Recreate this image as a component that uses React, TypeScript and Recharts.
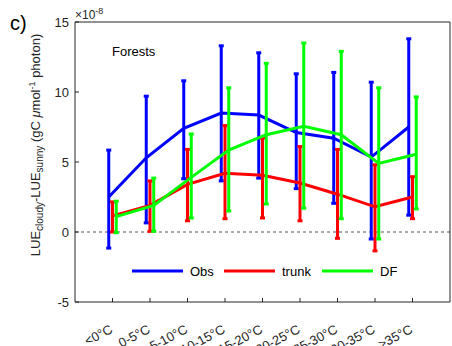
import { ComposedChart, Line, XAxis, YAxis, ErrorBar, ReferenceLine } from 'recharts';

document.body.style.margin = '0';

const categories = ['<0°C', '0-5°C', '5-10°C', '10-15°C', '15-20°C', '20-25°C', '25-30°C', '30-35°C', '>35°C'];
const yTicks = [-5, 0, 5, 10, 15];

// values in units of 1e-8 gC umol-1 photon
const obsMean = [2.5, 5.3, 7.4, 8.5, 8.35, 7.1, 6.7, 5.35, 7.5];
const obsLow = [-1.15, 0.65, 3.8, 3.65, 3.85, 3.1, 2.05, -0.5, 1.2];
const obsHigh = [5.85, 9.7, 10.8, 13.3, 12.8, 11.3, 11.4, 10.7, 13.8];
const trunkMean = [1.15, 1.9, 3.4, 4.2, 4.05, 3.5, 2.7, 1.8, 2.5];
const trunkLow = [0, 0.05, 0.8, 0.95, 1.0, 0.8, -0.45, -1.35, 0.95];
const trunkHigh = [2.15, 3.65, 5.9, 7.6, 6.7, 6.1, 5.9, 4.8, 3.95];
const dfMean = [1.1, 1.9, 3.9, 5.85, 6.95, 7.55, 6.95, 4.9, 5.55];
const dfLow = [-0.05, 0.05, 1.0, 1.5, 2.0, 1.7, 0.95, -0.5, 1.65];
const dfHigh = [2.2, 3.85, 7.0, 10.3, 12.05, 13.5, 12.9, 10.3, 9.65];

const W = 452;
const H = 346;
const PLOT_LEFT = 75;
const PLOT_RIGHT = 450;
const PLOT_TOP = 22;
const PLOT_BOTTOM = 302;
const AXIS = '#262626';
const FONT = '"Liberation Sans", Arial, sans-serif';

const build = (mean: number[], low: number[], high: number[], shift: number) =>
  mean.map((v, i) => ({ x: i + 1 + shift, y: v, err: [v - low[i], high[i] - v] }));

const obsData = build(obsMean, obsLow, obsHigh, -0.1);
const trunkData = build(trunkMean, trunkLow, trunkHigh, 0);
const dfData = build(dfMean, dfLow, dfHigh, 0.1);

const series = [
  { name: 'Obs', data: obsData, color: '#0000ff' },
  { name: 'trunk', data: trunkData, color: '#ff0000' },
  { name: 'DF', data: dfData, color: '#00ff00' },
];

function YTick({ y, payload }: any) {
  return (
    <g>
      <line x1={PLOT_LEFT} x2={PLOT_LEFT + 4} y1={y} y2={y} stroke={AXIS} />
      <text x={PLOT_LEFT - 6} y={y + 4.5} textAnchor="end" fontSize={13} fill={AXIS} fontFamily={FONT}>
        {payload.value}
      </text>
    </g>
  );
}

function RightTick({ y }: any) {
  return <line x1={PLOT_RIGHT} x2={PLOT_RIGHT - 4} y1={y} y2={y} stroke={AXIS} />;
}

function XTick({ x, payload }: any) {
  const tx = x + 1;
  const ty = PLOT_BOTTOM + 30;
  return (
    <g>
      <line x1={x} x2={x} y1={PLOT_BOTTOM} y2={PLOT_BOTTOM - 4} stroke={AXIS} />
      <text x={tx} y={ty} textAnchor="end" fontSize={13} fill={AXIS} fontFamily={FONT}
        transform={`rotate(-28 ${tx} ${ty})`}>
        {categories[payload.value - 1]}
      </text>
    </g>
  );
}

function TopTick({ x }: any) {
  return <line x1={x} x2={x} y1={PLOT_TOP} y2={PLOT_TOP + 4} stroke={AXIS} />;
}

export default function App() {
  return (
    <div style={{ position: 'relative', width: W, height: H, background: '#fff', fontFamily: FONT }}>
      <ComposedChart width={W} height={H}
        margin={{ top: PLOT_TOP, right: W - PLOT_RIGHT, bottom: 0, left: 0 }}>
        <XAxis dataKey="x" type="number" domain={[0, 10]} ticks={[1, 2, 3, 4, 5, 6, 7, 8, 9]}
          tick={<XTick />} tickLine={false} stroke={AXIS} height={H - PLOT_BOTTOM} allowDataOverflow />
        <XAxis xAxisId="top" orientation="top" mirror type="number" domain={[0, 10]}
          ticks={[1, 2, 3, 4, 5, 6, 7, 8, 9]} tick={<TopTick />} tickLine={false} stroke={AXIS} />
        <YAxis type="number" domain={[-5, 15]} ticks={yTicks} tick={<YTick />} tickLine={false}
          stroke={AXIS} width={PLOT_LEFT} allowDataOverflow />
        <YAxis yAxisId="right" orientation="right" mirror type="number" domain={[-5, 15]} ticks={yTicks}
          tick={<RightTick />} tickLine={false} stroke={AXIS} />
        <ReferenceLine y={0} stroke="#555" strokeDasharray="3 3" />
        {series.map((s) => (
          <Line key={s.name} data={s.data} dataKey="y" stroke={s.color} strokeWidth={3} dot={false}
            isAnimationActive={false} legendType="line">
            <ErrorBar dataKey="err" direction="y" stroke={s.color} strokeWidth={3} width={2.5}
              isAnimationActive={false} />
          </Line>
        ))}
      </ComposedChart>

      <svg width={W} height={H} style={{ position: 'absolute', left: 0, top: 0, pointerEvents: 'none' }}
        fontFamily={FONT}>
        <text x={10} y={30} fontSize={20} fill="#000">c)</text>
        <text x={75} y={19} fontSize={12} fill={AXIS}>
          ×10<tspan fontSize={9} dy={-5}>-8</tspan>
        </text>
        <text x={112} y={56} fontSize={13} fill="#000">Forests</text>
        <text transform="rotate(-90 40 145)" x={40} y={145} textAnchor="middle" fontSize={13} fill={AXIS}>
          LUE<tspan fontSize={10} dy={3}>cloudy</tspan>
          <tspan dy={-3}>-LUE</tspan>
          <tspan fontSize={10} dy={3}>sunny</tspan>
          <tspan dy={-3}> (gC </tspan>
          <tspan fontStyle="italic">μ</tspan>
          <tspan>mol</tspan>
          <tspan fontSize={9} dy={-5}>-1</tspan>
          <tspan dy={5}> photon)</tspan>
        </text>
        {series.map((s, i) => {
          const lx = [132, 224, 322][i];
          return (
            <g key={s.name}>
              <line x1={lx} x2={lx + 51} y1={271} y2={271} stroke={s.color} strokeWidth={3} />
              <text x={lx + 58} y={275.5} fontSize={13} fill="#000">{s.name}</text>
            </g>
          );
        })}
      </svg>
    </div>
  );
}
